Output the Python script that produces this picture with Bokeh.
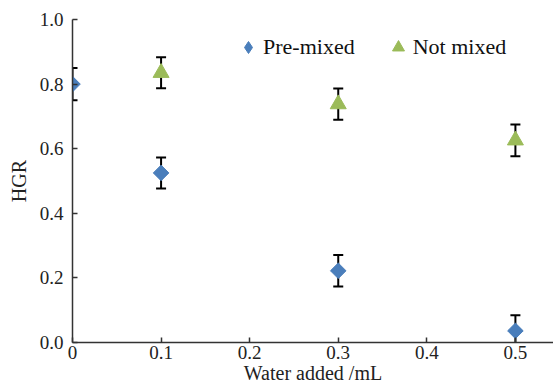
from bokeh.plotting import figure
from bokeh.models import Range1d, FixedTicker, NumeralTickFormatter, Legend, LegendItem
from bokeh.embed import file_html
from bokeh.resources import INLINE
import numpy as np

pre_x = [0.0, 0.1, 0.3, 0.5]
pre_y = [0.80, 0.525, 0.222, 0.036]
pre_err = [0.05, 0.048, 0.049, 0.048]

not_x = [0.1, 0.3, 0.5]
not_y = [0.835, 0.738, 0.626]
not_err = [0.048, 0.048, 0.049]

x_ticks = [0, 0.1, 0.2, 0.3, 0.4, 0.5]
y_ticks = [0, 0.2, 0.4, 0.6, 0.8, 1.0]

BLUE = "#4A7EBB"
GREEN = "#9BBB59"
FONT = "Liberation Serif"

p = figure(width=553, height=390, output_backend="svg", toolbar_location=None,
           x_range=Range1d(0, 0.543), y_range=Range1d(0, 1.0),
           min_border_left=72, min_border_right=0, min_border_top=19, min_border_bottom=48)
p.outline_line_color = None
p.grid.visible = False
p.background_fill_color = "white"
p.border_fill_color = "white"

def errbars(xs, ys, es):
    xs = np.array(xs); ys = np.array(ys); es = np.array(es)
    p.segment(x0=xs, y0=ys - es, x1=xs, y1=ys + es, line_color="black", line_width=2)
    p.scatter(x=np.concatenate([xs, xs]), y=np.concatenate([ys - es, ys + es]),
              marker="dash", size=10, line_color="black", line_width=2)

errbars(pre_x, pre_y, pre_err)
errbars(not_x, not_y, not_err)

r_pre_leg = p.scatter(x=pre_x, y=pre_y, marker="diamond", size=14,
                      fill_color=BLUE, line_color=BLUE)
p.scatter(x=pre_x, y=pre_y, marker="square", angle=np.pi / 4, size=11,
          fill_color=BLUE, line_color=BLUE)
r_not = p.scatter(x=not_x, y=not_y, marker="triangle", size=16,
                  fill_color=GREEN, line_color=GREEN)

legend = Legend(items=[LegendItem(label="Pre-mixed", renderers=[r_pre_leg]),
                       LegendItem(label="Not mixed", renderers=[r_not])],
                orientation="horizontal", location=(161, 280),
                border_line_color=None, background_fill_alpha=0,
                label_text_font=FONT, label_text_font_size="22px",
                label_text_color="#111111",
                glyph_width=30, glyph_height=30, spacing=28, padding=2, label_standoff=0)
p.add_layout(legend, "center")

for ax in (p.xaxis[0], p.yaxis[0]):
    ax.axis_line_color = "#333333"
    ax.axis_line_width = 1.5
    ax.major_tick_line_color = "#333333"
    ax.major_tick_line_width = 1.5
    ax.major_tick_in = 5
    ax.major_tick_out = 0
    ax.minor_tick_line_color = None
    ax.major_label_text_font = FONT
    ax.major_label_text_font_size = "19px"
    ax.major_label_text_color = "#222222"
    ax.axis_label_text_font = FONT
    ax.axis_label_text_font_size = "20px"
    ax.axis_label_text_font_style = "normal"
    ax.axis_label_text_color = "#222222"

p.xaxis[0].ticker = FixedTicker(ticks=x_ticks)
p.xaxis[0].formatter = NumeralTickFormatter(format="0.[0]")
p.xaxis[0].axis_label = "Water added /mL"
p.xaxis[0].major_label_standoff = 3
p.xaxis[0].axis_label_standoff = 0
p.yaxis[0].ticker = FixedTicker(ticks=y_ticks)
p.yaxis[0].formatter = NumeralTickFormatter(format="0.0")
p.yaxis[0].axis_label = "HGR"
p.yaxis[0].major_label_standoff = 9
p.yaxis[0].axis_label_standoff = 7

open("out.html", "w").write(file_html(p, INLINE))
